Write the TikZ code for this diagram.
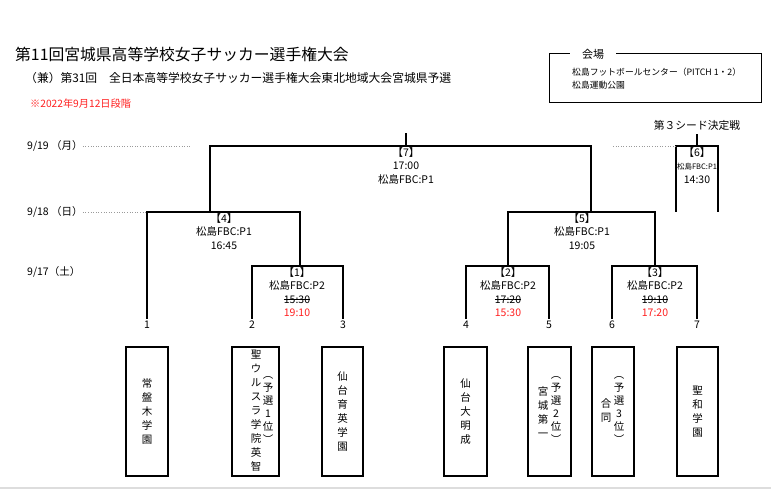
\documentclass[tikz,border=0pt]{standalone}
\usepackage{fontspec}
\setmainfont{Noto Sans CJK JP}
\usepackage{xcolor}
\usetikzlibrary{positioning}
\definecolor{jred}{HTML}{FF2020}
\definecolor{jdot}{HTML}{9A9A9A}
\definecolor{jedge}{HTML}{DDDDDD}
\tikzset{
  bline/.style={line width=1.1pt,draw=black},
  team/.style={draw=black,line width=1.1pt,minimum width=42pt,minimum height=129pt,inner sep=0pt},
  tate/.style={align=center,font=\fontsize{10.5}{14}\selectfont,inner sep=0pt},
  game/.style={align=center,font=\fontsize{10.5}{13.5}\selectfont,inner sep=1pt,anchor=north},
  num/.style={font=\fontsize{10.5}{12}\selectfont,inner sep=2pt,anchor=north},
  day/.style={font=\fontsize{10.5}{12}\selectfont,anchor=west,inner sep=0pt},
  dline/.style={draw=jdot,dotted,line width=0.6pt},
}
\newsavebox{\strkbox}
\newcommand{\strk}[1]{\sbox{\strkbox}{#1}\rlap{\usebox{\strkbox}}\rule[0.32em]{\wd\strkbox}{0.7pt}}
\newcommand{\late}[1]{\textcolor{jred}{#1}}
\begin{document}
\begin{tikzpicture}[x=1pt,y=-1pt]
\useasboundingbox (0,0) rectangle (771,489);
% headings
\node[anchor=west,inner sep=0pt,font=\fontsize{15.8}{18}\selectfont] (title) at (15,54) {第11回宮城県高等学校女子サッカー選手権大会};
\node[anchor=west,inner sep=0pt,font=\fontsize{11.8}{14}\selectfont] (sub) at (25,78) {（兼）第31回　全日本高等学校女子サッカー選手権大会東北地域大会宮城県予選};
\node[anchor=west,inner sep=0pt,font=\fontsize{10.2}{12}\selectfont,text=jred] (note) at (30,104) {※2022年9月12日段階};
% venue
\node[draw=black,line width=1pt,minimum width=212pt,minimum height=49pt] (venue) at (655,78.5) {};
\node[fill=white,inner xsep=12pt,inner ysep=1pt,font=\fontsize{11}{13}\selectfont] (vhead) at (593,54) {会場};
\node[anchor=west,align=left,inner sep=0pt,font=\fontsize{8.8}{13}\selectfont] (vtext) at (572,78.5) {松島フットボールセンター（PITCH 1・2）\\松島運動公園};
% days
\node[day] (d19) at (27,146) {9/19 （月）};
\node[day] (d18) at (27,212) {9/18 （日）};
\node[day] (d17) at (27,272) {9/17（土）};
\coordinate (e19) at (190,146);
\coordinate (e18) at (147,212);
\draw[dline] (d19.east) -- (e19);
\draw[dline] (d18.east) -- (e18);
% entrant numbers
\node[num] (n1) at (147,318.5) {1};
\node[num] (n2) at (252,318.5) {2};
\node[num] (n3) at (343,318.5) {3};
\node[num] (n4) at (466,318.5) {4};
\node[num] (n5) at (549,318.5) {5};
\node[num] (n6) at (612,318.5) {6};
\node[num] (n7) at (697,318.5) {7};
% junctions
\coordinate (m1) at (300,266);
\coordinate (m2) at (508,266);
\coordinate (m3) at (655,266);
\coordinate (m4) at (210,212);
\coordinate (m5) at (591,212);
\coordinate (m7) at (406,146);
\coordinate (t7) at (406,133);
\coordinate (m6) at (697,146);
\coordinate (m6l) at (676,212);
\coordinate (m6r) at (718,212);
\coordinate (s6) at (613,146);
% bracket
\draw[bline] (n2.north) |- (m1) -| (n3.north);
\draw[bline] (n4.north) |- (m2) -| (n5.north);
\draw[bline] (n6.north) |- (m3) -| (n7.north);
\draw[bline] (n1.north) |- (m4) -| (m1);
\draw[bline] (m2) |- (m5) -| (m3);
\draw[bline] (m4) |- (m7) -| (m5);
\draw[bline] (m7) -- (t7);
\draw[bline] (m6l) |- (m6) -| (m6r);
\draw[dline] (s6) -- (s6 -| m6l);
\node[font=\fontsize{10.8}{12}\selectfont] (seed) at (697,125) {第３シード決定戦};
\draw[bline] (m6) -- (seed.south);
% games
\node[game] (g7) at (406,146) {【7】\\17:00\\松島FBC:P1};
\node[game] (g4) at (224,212) {【4】\\松島FBC:P1\\16:45};
\node[game] (g5) at (582,212) {【5】\\松島FBC:P1\\19:05};
\node[game] (g1) at (297,266) {【1】\\松島FBC:P2\\\strk{15:30}\\\late{19:10}};
\node[game] (g2) at (508,266) {【2】\\松島FBC:P2\\\strk{17:20}\\\late{15:30}};
\node[game] (g3) at (655,266) {【3】\\松島FBC:P2\\\strk{19:10}\\\late{17:20}};
\node[game] (g6) at (697,146) {【6】\\{\fontsize{7.5}{13}\selectfont 松島FBC:P1}\\14:30};
% teams
\node[team,tate] (t1) at (147,411.5) {常\\盤\\木\\学\\園};
\node[team,minimum width=47pt] (t2) at (255.5,411.5) {};
\node[tate] (t2a) at (256,411) {聖\\ウ\\ル\\ス\\ラ\\学\\院\\英\\智};
\node[tate,font=\fontsize{10.5}{13}\selectfont] (t2b) at (268,410) {︵\\予\\選\\1\\位\\︶};
\node[team,tate,minimum width=41pt] (t3) at (342.5,411.5) {仙\\台\\育\\英\\学\\園};
\node[team,tate,minimum width=43pt] (t4) at (465.5,411.5) {仙\\台\\大\\明\\成};
\node[team,minimum width=43pt] (t5) at (549.5,411.5) {};
\node[tate] (t5a) at (543,412) {宮\\城\\第\\一};
\node[tate,font=\fontsize{10.5}{13}\selectfont] (t5b) at (556,410) {︵\\予\\選\\2\\位\\︶};
\node[team] (t6) at (613,411.5) {};
\node[tate] (t6a) at (606,411) {合\\同};
\node[tate,font=\fontsize{10.5}{13}\selectfont] (t6b) at (619,410) {︵\\予\\選\\3\\位\\︶};
\node[team,tate,minimum width=41pt] (t7box) at (697.5,411.5) {聖\\和\\学\\園};
% page edge
\coordinate (pl) at (0,488);
\coordinate (pr) at (771,488);
\draw[draw=jedge,line width=1.5pt] (pl) -- (pr);
\end{tikzpicture}
\end{document}
